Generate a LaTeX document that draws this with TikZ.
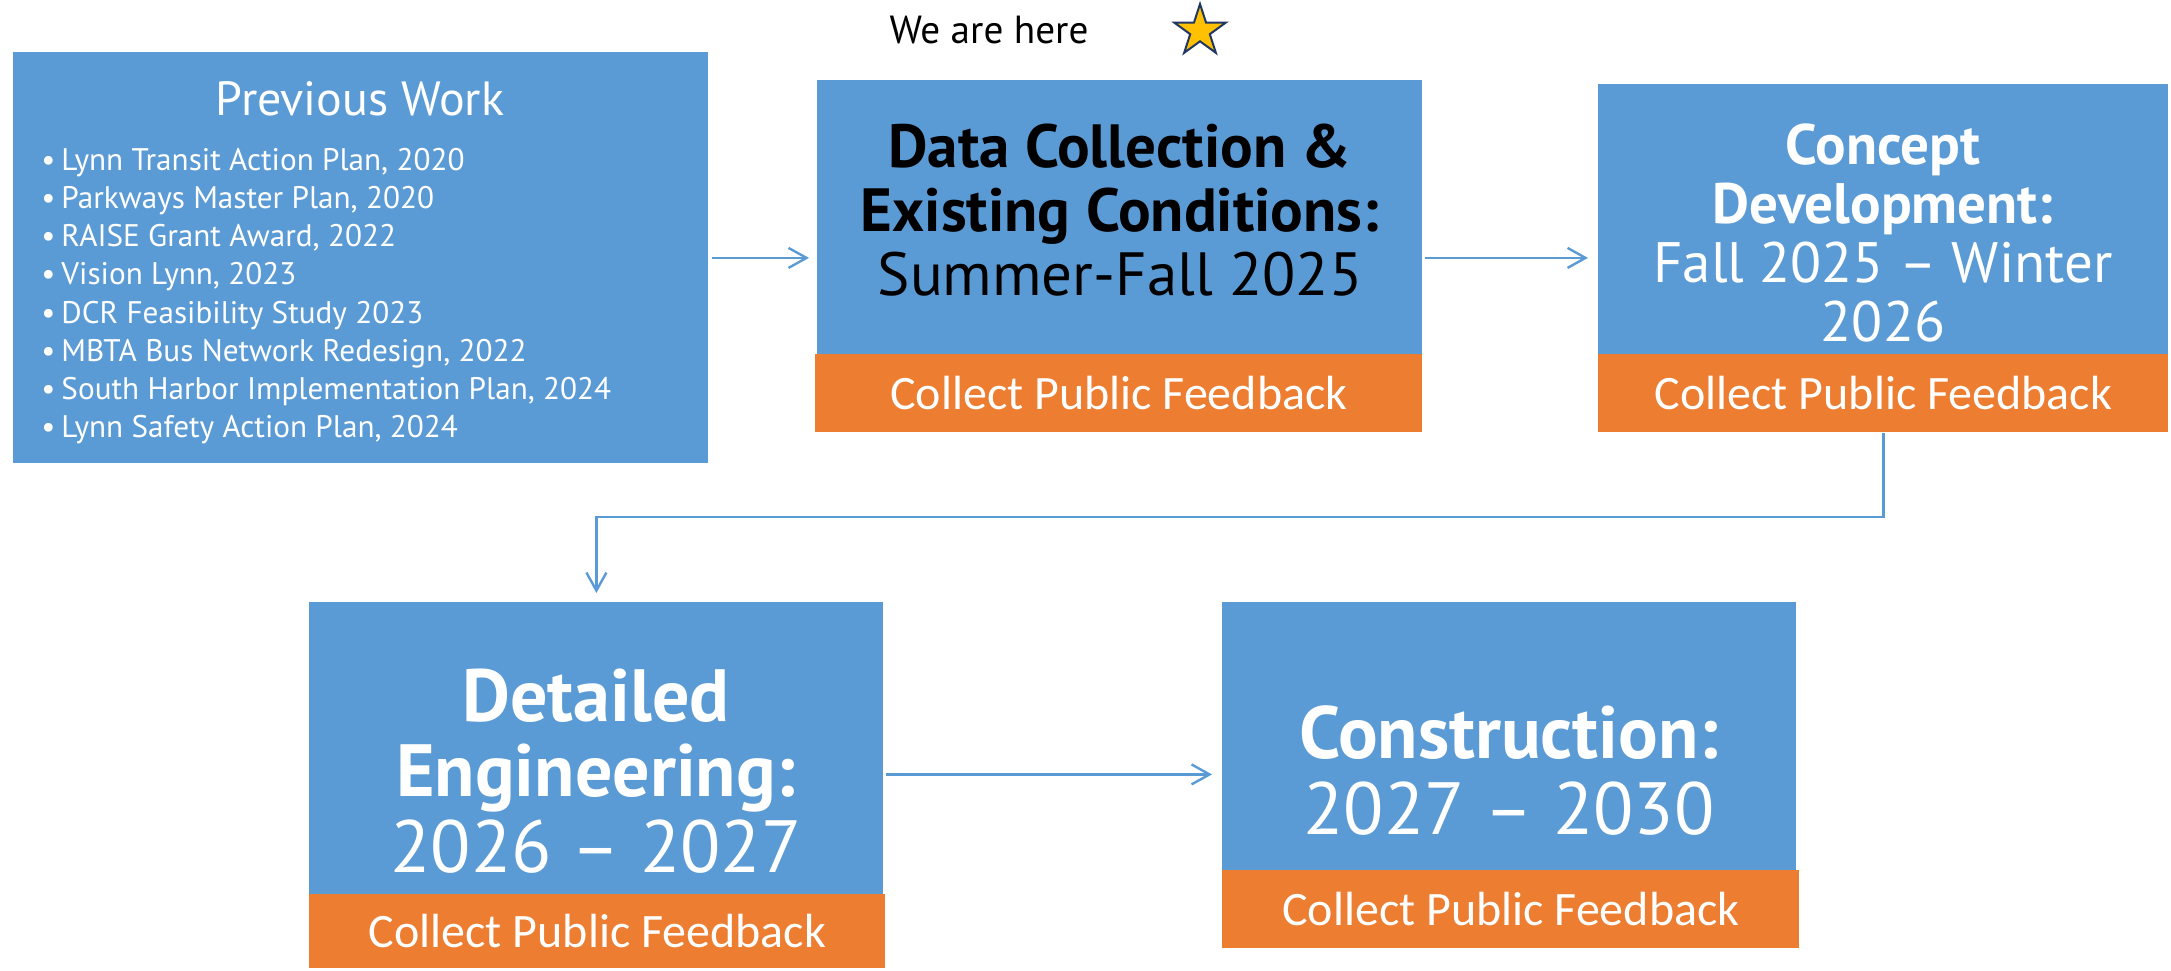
\documentclass[tikz,border=0pt]{standalone}
\usepackage{fontspec}
\setmainfont{PT Sans}
\newfontfamily\fbfont{Carlito}
\usepackage{xcolor}
\usepackage{tikz}
\usetikzlibrary{arrows.meta}
\usetikzlibrary{shapes.geometric}
\usetikzlibrary{positioning}

\definecolor{stageblue}{HTML}{5B9BD5}
\definecolor{fborange}{HTML}{ED7D31}
\definecolor{stargold}{HTML}{FFC000}
\definecolor{starline}{HTML}{203864}

\begin{document}
\begin{tikzpicture}[x=0.5pt, y=-0.5pt,
    stagebox/.style={fill=stageblue, inner sep=0pt, anchor=north west},
    fbbox/.style={fill=fborange, inner sep=0pt, anchor=north west, text=white,
      font=\fbfont\fontsize{24}{26}\selectfont},
    headtxt/.style={align=center, inner sep=0pt, text=white},
    link/.style={draw=stageblue, line width=1.2pt, -{Straight Barb[length=9pt, width=10pt]}}]
    \useasboundingbox (0,0) rectangle (2171,970);
    % previous work
    \node[stagebox, minimum width=347.5pt, minimum height=205.5pt] (prev) at (13,52) {};
    \node[anchor=base, inner sep=0pt, text=white, font=\fontsize{24}{26}\selectfont] (prev-title) at (360,115) {Previous Work};
    \node[anchor=north west, inner sep=0pt, align=left, text=white, font=\fontsize{15.6}{19.05}\selectfont] (prev-list) at (41,148)
      {\textbullet\hspace{3pt}Lynn Transit Action Plan, 2020\\
       \textbullet\hspace{3pt}Parkways Master Plan, 2020\\
       \textbullet\hspace{3pt}RAISE Grant Award, 2022\\
       \textbullet\hspace{3pt}Vision Lynn, 2023\\
       \textbullet\hspace{3pt}DCR Feasibility Study 2023\\
       \textbullet\hspace{3pt}MBTA Bus Network Redesign, 2022\\
       \textbullet\hspace{3pt}South Harbor Implementation Plan, 2024\\
       \textbullet\hspace{3pt}Lynn Safety Action Plan, 2024};
    % data collection
    \node[stagebox, minimum width=302.5pt, minimum height=137pt] (data) at (817,80) {};
    \node[fbbox, minimum width=303.5pt, minimum height=39pt] (data-fb) at (815,354) {Collect Public Feedback};
    \node[headtxt, text=black, font=\fontsize{30.5}{32}\selectfont] (data-txt) at (1120,210)
      {\textbf{Data Collection \&}\\ \textbf{Existing Conditions:}\\ Summer-Fall 2025};
    \node[anchor=base, inner sep=0pt, font=\fontsize{19.6}{20}\selectfont] (here) at (989,43) {We are here};
    \node[star, star points=5, star point ratio=2.618, minimum size=27pt, inner sep=0pt,
      fill=stargold, draw=starline, line width=1pt] (herestar) at (1200,31) {};
    % concept development
    \node[stagebox, minimum width=285pt, minimum height=135pt] (conc) at (1598,84) {};
    \node[fbbox, minimum width=285pt, minimum height=39pt] (conc-fb) at (1598,354) {Collect Public Feedback};
    \node[headtxt, font=\fontsize{28.5}{29.5}\selectfont] (conc-txt) at (1883,233)
      {\textbf{Concept}\\ \textbf{Development:}\\ Fall 2025 -- Winter\\ 2026};
    % detailed engineering
    \node[stagebox, minimum width=287pt, minimum height=146pt] (det) at (309,602) {};
    \node[fbbox, minimum width=288pt, minimum height=37pt] (det-fb) at (309,894) {Collect Public Feedback};
    \node[headtxt, font=\fontsize{37}{37.75}\selectfont] (det-txt) at (596,771)
      {\textbf{Detailed}\\ \textbf{Engineering:}\\ 2026 -- 2027};
    % construction
    \node[stagebox, minimum width=287pt, minimum height=134pt] (cons) at (1222,602) {};
    \node[fbbox, minimum width=288.5pt, minimum height=39pt] (cons-fb) at (1222,870) {Collect Public Feedback};
    \node[headtxt, font=\fontsize{37}{38}\selectfont] (cons-txt) at (1509,771)
      {\textbf{Construction:}\\ 2027 -- 2030};
    % arrows
    \draw[link, shorten <=1.5pt, shorten >=4pt] (prev.east) -- (prev.east -| data.west);
    \draw[link, shorten <=1pt, shorten >=5pt] (prev.east -| data.east) -- (prev.east -| conc.west);
    \draw[link, shorten >=4.5pt] (conc-fb.south) -- ++(0,84) -| (det.north);
    \draw[link, shorten <=1pt, shorten >=5pt] ([yshift=-13pt]det.east) -- ([yshift=-13pt]det.east -| cons.west);
\end{tikzpicture}
\end{document}
